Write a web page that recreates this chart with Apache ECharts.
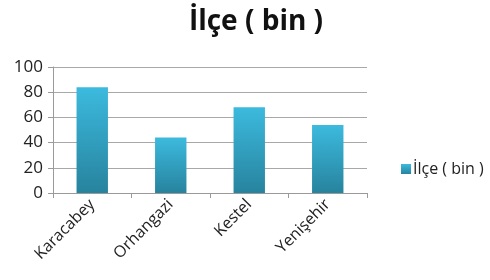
<!DOCTYPE html>
<html>
<head>
<meta charset="utf-8">
<script src="https://cdn.jsdelivr.net/npm/echarts@6/dist/echarts.min.js"></script>
<style>
	html, body { margin: 0; padding: 0; background: #fff; }
	#chart { width: 490px; height: 280px; }
</style>
</head>
<body>
<div id="chart"></div>
<script>
	// veriler
	var seriesName = 'İlçe ( bin )';
	var categories = ['Karacabey', 'Orhangazi', 'Kestel', 'Yenişehir'];
	var values = [84, 44, 68, 54];
	var yTicks = [0, 20, 40, 60, 80, 100];

	var myChart = echarts.init(document.getElementById('chart'));

	// çubuk rengi (üstten alta geçiş)
	var barColor = new echarts.graphic.LinearGradient(0, 0, 0, 1, [
		{ offset: 0, color: '#3cbade' },
		{ offset: 1, color: '#27839e' }
	]);

	var option = {
		animation: false,
		title: {
			text: seriesName,
			left: 251,
			textAlign: 'center',
			top: 3,
			textStyle: {
				fontFamily: 'Open Sans',
				fontSize: 28,
				fontWeight: 'bold',
				color: '#111'
			}
		},
		legend: {
			data: [seriesName],
			left: 396,
			top: 156,
			itemWidth: 10,
			itemHeight: 10,
			itemGap: 4,
			icon: 'rect',
			textStyle: {
				fontFamily: 'Open Sans',
				fontSize: 16,
				color: '#222',
				padding: [0, 0, 0, -3]
			}
		},
		grid: {
			left: 53,
			top: 67,
			width: 314,
			height: 126
		},
		xAxis: {
			type: 'category',
			data: categories,
			axisLine: { lineStyle: { color: '#9a9a9a' } },
			axisTick: { show: true, alignWithLabel: false, length: 5, lineStyle: { color: '#9a9a9a' } },
			axisLabel: {
				rotate: 45,
				interval: 0,
				margin: 9,
				fontFamily: 'Open Sans',
				fontSize: 16,
				color: '#222'
			}
		},
		yAxis: {
			type: 'value',
			min: yTicks[0],
			max: yTicks[yTicks.length - 1],
			interval: 20,
			axisLine: { show: true, lineStyle: { color: '#9a9a9a' } },
			axisTick: { show: true, length: 5, inside: false, lineStyle: { color: '#9a9a9a' } },
			splitLine: { lineStyle: { color: '#a8a8a8' } },
			axisLabel: {
				margin: 10,
				fontFamily: 'Open Sans',
				fontSize: 17,
				color: '#222'
			}
		},
		series: [{
			name: seriesName,
			type: 'bar',
			data: values,
			barWidth: '40%',
			itemStyle: { color: barColor }
		}]
	};

	myChart.setOption(option);
</script>
</body>
</html>
